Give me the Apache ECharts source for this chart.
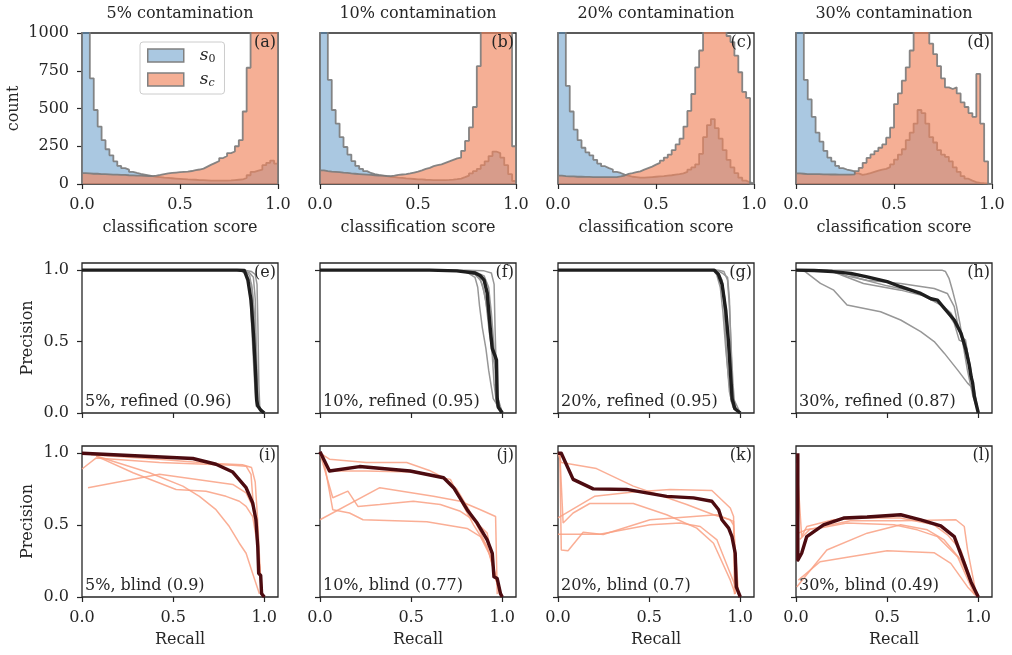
<!DOCTYPE html>
<html>
<head>
<meta charset="utf-8">
<script src="https://cdn.jsdelivr.net/npm/echarts@6/dist/echarts.min.js"></script>
<style>
  html, body { margin: 0; padding: 0; background: #fff; }
  #chart { width: 1012px; height: 655px; }
</style>
</head>
<body>
<div id="chart"></div>
<script>
// contamination levels (one column each)
const levels = ['5%', '10%', '20%', '30%'];
const panelTags = ['(a)', '(b)', '(c)', '(d)', '(e)', '(f)', '(g)', '(h)', '(i)', '(j)', '(k)', '(l)'];
const refinedScores = ['0.96', '0.95', '0.95', '0.87'];
const blindScores = ['0.9', '0.77', '0.7', '0.49'];
const unitTicks = [0, 0.5, 1];

// histograms: counts per bin of width 0.02 on [0, 1]
const binWidth = 0.02;
const s0_05 = [3000, 2000, 700, 490, 380, 290, 230, 190, 150, 120, 105, 95, 80, 73, 67, 62, 57, 52, 48, 45,
  42, 40, 38, 36, 34, 32, 30, 29, 28, 26, 25, 24, 23, 22, 22, 22, 23, 24, 26, 28,
  30, 40, 58, 80, 88, 95, 125, 140, 155, 135];
const sc_05 = [72, 70, 68, 68, 66, 65, 64, 62, 62, 60, 60, 58, 57, 56, 55, 54, 53, 52, 55, 60,
  66, 70, 73, 76, 78, 80, 82, 86, 92, 96, 102, 115, 128, 140, 152, 172, 185, 205, 215, 250,
  290, 480, 770, 1050, 1400, 1800, 2100, 2300, 2400, 2300];
const s0_10 = [3000, 2000, 690, 490, 400, 310, 245, 195, 152, 120, 100, 85, 73, 66, 60, 56, 52, 48, 45, 42,
  40, 37, 35, 33, 31, 30, 28, 27, 26, 26, 25, 26, 27, 29, 32, 36, 45, 55, 70, 85,
  100, 125, 150, 185, 215, 205, 175, 125, 65, 20];
const sc_10 = [90, 85, 82, 80, 78, 75, 73, 70, 68, 66, 64, 62, 60, 58, 56, 55, 53, 52, 55, 60,
  63, 65, 70, 76, 82, 90, 100, 107, 118, 125, 130, 140, 150, 160, 170, 175, 220, 285, 375, 510,
  780, 1100, 1500, 1900, 2200, 2300, 2200, 1900, 1400, 250];
const s0_20 = [3000, 1500, 650, 480, 360, 290, 240, 210, 190, 160, 135, 118, 105, 96, 80, 73, 62, 55, 48, 45,
  42, 42, 44, 46, 48, 50, 52, 55, 58, 62, 65, 70, 80, 95, 110, 130, 200, 310, 390, 430,
  370, 300, 225, 160, 110, 72, 42, 22, 10, 4];
const sc_20 = [55, 52, 50, 50, 48, 48, 47, 47, 46, 46, 46, 45, 45, 45, 46, 50, 56, 67, 72, 78,
  84, 95, 105, 115, 128, 140, 155, 175, 195, 225, 262, 300, 380, 484, 596, 773, 884, 1200, 1400, 1450,
  1400, 1250, 1050, 980, 940, 850, 740, 610, 570, 0];
const s0_30 = [3000, 1500, 690, 560, 445, 340, 280, 220, 175, 150, 120, 105, 96, 90, 84, 70, 60, 65, 72, 80,
  88, 95, 100, 112, 130, 162, 195, 230, 290, 340, 400, 490, 470, 400, 310, 275, 225, 195, 180, 150,
  110, 80, 52, 35, 22, 13, 8, 5, 3, 1];
const sc_30 = [70, 68, 66, 66, 65, 65, 64, 64, 63, 63, 62, 62, 62, 62, 64, 85, 107, 140, 173, 196,
  218, 240, 262, 307, 373, 529, 600, 684, 773, 884, 1100, 1300, 1450, 1300, 929, 860, 780, 700, 640, 629,
  640, 600, 540, 510, 470, 445, 729, 400, 150, 0];

// precision-recall curves, [recall, precision]
const refinedMean05 = [[0, 1], [0.85, 1], [0.89, 0.998], [0.91, 0.93], [0.927, 0.79], [0.94, 0.56], [0.95, 0.33], [0.958, 0.09], [0.964, 0.05], [0.98, 0.02], [1, 0]];
const refinedRuns05 = [
  [[0, 1], [0.86, 1], [0.9, 0.99], [0.92, 0.96], [0.935, 0.85], [0.945, 0.6], [0.955, 0.3], [0.96, 0.05], [0.99, 0.01], [1, 0]],
  [[0, 1], [0.88, 1], [0.92, 0.98], [0.94, 0.95], [0.95, 0.8], [0.955, 0.5], [0.962, 0.2], [0.97, 0.03], [1, 0]],
  [[0, 1], [0.87, 1], [0.9, 0.97], [0.915, 0.9], [0.925, 0.75], [0.935, 0.5], [0.945, 0.25], [0.955, 0.05], [1, 0]],
  [[0, 1], [0.89, 1], [0.93, 0.99], [0.95, 0.97], [0.96, 0.9], [0.965, 0.6], [0.97, 0.2], [0.975, 0.04], [1, 0]],
  [[0, 1], [0.86, 1], [0.9, 0.98], [0.93, 0.9], [0.945, 0.7], [0.955, 0.4], [0.96, 0.1], [0.98, 0.02], [1, 0]]
];
const refinedMean10 = [[0, 1], [0.6, 1], [0.75, 0.995], [0.85, 0.98], [0.88, 0.96], [0.9, 0.93], [0.917, 0.84], [0.936, 0.56], [0.945, 0.45], [0.96, 0.4], [0.968, 0.37], [0.972, 0.1], [0.978, 0.04], [1, 0]];
const refinedRuns10 = [
  [[0, 1], [0.7, 1], [0.8, 0.99], [0.85, 0.95], [0.865, 0.88], [0.875, 0.75], [0.89, 0.6], [0.91, 0.45], [0.925, 0.3], [0.95, 0.1], [1, 0]],
  [[0, 1], [0.8, 1], [0.9, 0.995], [0.94, 0.98], [0.955, 0.9], [0.96, 0.6], [0.965, 0.38], [0.97, 0.1], [1, 0]],
  [[0, 1], [0.75, 1], [0.85, 0.97], [0.88, 0.93], [0.9, 0.85], [0.92, 0.7], [0.94, 0.5], [0.955, 0.2], [0.97, 0.05], [1, 0]],
  [[0, 1], [0.7, 1], [0.82, 0.985], [0.87, 0.96], [0.89, 0.9], [0.91, 0.78], [0.93, 0.55], [0.95, 0.38], [0.965, 0.3], [0.975, 0.05], [1, 0]],
  [[0, 1], [0.65, 1], [0.85, 0.99], [0.9, 0.96], [0.925, 0.88], [0.94, 0.7], [0.955, 0.45], [0.965, 0.15], [1, 0]]
];
const refinedMean20 = [[0, 1], [0.857, 1], [0.88, 0.97], [0.9, 0.9], [0.92, 0.72], [0.935, 0.5], [0.945, 0.3], [0.955, 0.1], [0.97, 0.03], [1, 0]];
const refinedRuns20 = [
  [[0, 1], [0.85, 1], [0.87, 0.97], [0.89, 0.88], [0.905, 0.7], [0.92, 0.45], [0.935, 0.25], [0.95, 0.08], [1, 0]],
  [[0, 1], [0.87, 1], [0.9, 0.98], [0.93, 0.95], [0.94, 0.8], [0.948, 0.5], [0.955, 0.2], [0.965, 0.03], [1, 0]],
  [[0, 1], [0.86, 1], [0.89, 0.95], [0.905, 0.85], [0.915, 0.65], [0.925, 0.4], [0.94, 0.15], [0.96, 0.04], [1, 0]],
  [[0, 1], [0.88, 1], [0.91, 0.99], [0.93, 0.93], [0.94, 0.75], [0.95, 0.45], [0.96, 0.2], [0.97, 0.04], [1, 0]],
  [[0, 1], [0.85, 1], [0.88, 0.98], [0.9, 0.93], [0.915, 0.8], [0.93, 0.6], [0.94, 0.35], [0.955, 0.12], [1, 0]]
];
const refinedMean30 = [[0, 1], [0.1, 0.998], [0.2, 0.99], [0.3, 0.977], [0.39, 0.953], [0.5, 0.92], [0.574, 0.884], [0.684, 0.837], [0.74, 0.8], [0.776, 0.79], [0.813, 0.733], [0.868, 0.651], [0.905, 0.558], [0.932, 0.442], [0.95, 0.337], [0.96, 0.256], [0.969, 0.209], [0.978, 0.116], [1, 0]];
const refinedRuns30 = [
  [[0, 1], [0.5, 1], [0.8, 1], [0.82, 0.99], [0.84, 0.94], [0.86, 0.85], [0.88, 0.75], [0.9, 0.62], [0.92, 0.45], [0.94, 0.3], [0.97, 0.12], [1, 0]],
  [[0, 1], [0.05, 0.99], [0.134, 0.907], [0.207, 0.86], [0.28, 0.756], [0.464, 0.709], [0.574, 0.651], [0.684, 0.57], [0.758, 0.5], [0.813, 0.419], [0.886, 0.302], [0.941, 0.209], [0.978, 0.163], [1, 0]],
  [[0, 1], [0.17, 1], [0.3, 0.953], [0.39, 0.93], [0.574, 0.907], [0.758, 0.872], [0.83, 0.837], [0.868, 0.744], [0.886, 0.628], [0.905, 0.535], [0.93, 0.51], [0.96, 0.256], [1, 0]],
  [[0, 1], [0.2, 0.99], [0.28, 0.95], [0.37, 0.907], [0.574, 0.86], [0.7, 0.82], [0.813, 0.744], [0.868, 0.628], [0.895, 0.51], [0.93, 0.49], [0.96, 0.3], [0.978, 0.14], [1, 0]],
  [[0, 1], [0.25, 0.99], [0.35, 0.94], [0.5, 0.89], [0.65, 0.85], [0.78, 0.78], [0.85, 0.7], [0.89, 0.6], [0.92, 0.48], [0.95, 0.35], [0.975, 0.15], [1, 0]]
];
const blindMean05 = [[0, 1], [0.608, 0.963], [0.735, 0.923], [0.827, 0.869], [0.9, 0.76], [0.936, 0.654], [0.954, 0.537], [0.964, 0.35], [0.969, 0.164], [0.98, 0.15], [0.985, 0.023], [1, 0]];
const blindRuns05 = [
  [[0, 0.89], [0.078, 0.967], [0.425, 0.935], [0.827, 0.916], [0.9, 0.91], [0.927, 0.853], [0.936, 0.7], [0.954, 0.514], [0.973, 0.234], [0.99, 0.02]],
  [[0.033, 0.76], [0.425, 0.853], [0.827, 0.783], [0.9, 0.724], [0.936, 0.63], [0.96, 0.45], [0.985, 0.02]],
  [[0.078, 0.98], [0.28, 0.864], [0.516, 0.748], [0.68, 0.736], [0.79, 0.7], [0.863, 0.666], [0.9, 0.63], [0.936, 0.56], [0.964, 0.35], [0.985, 0.02]],
  [[0.078, 0.98], [0.37, 0.864], [0.553, 0.771], [0.644, 0.7], [0.735, 0.607], [0.808, 0.49], [0.863, 0.374], [0.9, 0.304], [0.936, 0.164], [0.973, 0.023]],
  [[0.05, 0.99], [0.4, 0.96], [0.7, 0.93], [0.88, 0.92], [0.93, 0.9], [0.95, 0.8], [0.965, 0.5], [0.98, 0.1], [0.99, 0.01]]
];
const blindMean10 = [[0, 1.01], [0.052, 0.876], [0.217, 0.907], [0.494, 0.876], [0.678, 0.829], [0.733, 0.76], [0.807, 0.607], [0.862, 0.514], [0.917, 0.397], [0.945, 0.304], [0.954, 0.14], [0.972, 0.128], [0.99, 0.023], [1, 0]];
const blindRuns10 = [
  [[0, 1], [0.052, 0.958], [0.254, 0.935], [0.475, 0.935], [0.6, 0.88], [0.678, 0.829], [0.75, 0.75], [0.82, 0.6], [0.88, 0.45], [0.93, 0.3], [0.98, 0.05]],
  [[0.05, 0.876], [0.254, 0.876], [0.5, 0.87], [0.715, 0.818], [0.788, 0.63], [0.843, 0.5], [0.917, 0.35], [0.99, 0.01]],
  [[0, 1], [0.07, 0.69], [0.153, 0.736], [0.208, 0.63], [0.328, 0.643], [0.512, 0.666], [0.66, 0.643], [0.77, 0.596], [0.843, 0.535], [0.917, 0.444], [0.954, 0.2], [0.99, 0.02]],
  [[0, 0.537], [0.328, 0.76], [0.622, 0.7], [0.77, 0.666], [0.88, 0.607], [0.963, 0.56], [0.972, 0.02]],
  [[0.015, 0.99], [0.07, 0.607], [0.162, 0.584], [0.236, 0.537], [0.586, 0.524], [0.807, 0.477], [0.88, 0.42], [0.936, 0.28], [0.985, 0.02]]
];
const blindMean20 = [[0, 1], [0.018, 1], [0.083, 0.818], [0.193, 0.752], [0.376, 0.748], [0.596, 0.7], [0.743, 0.689], [0.844, 0.666], [0.881, 0.607], [0.899, 0.537], [0.936, 0.479], [0.954, 0.42], [0.972, 0.304], [0.978, 0.07], [1, 0]];
const blindRuns20 = [
  [[0, 1], [0.018, 0.935], [0.211, 0.893], [0.413, 0.771], [0.706, 0.643], [0.853, 0.572], [0.945, 0.537], [0.963, 0.5], [0.99, 0.02]],
  [[0, 0.55], [0.2, 0.7], [0.413, 0.73], [0.615, 0.748], [0.844, 0.741], [0.945, 0.619], [0.963, 0.56], [0.972, 0.02]],
  [[0.01, 1], [0.028, 0.514], [0.083, 0.584], [0.174, 0.65], [0.413, 0.65], [0.596, 0.572], [0.761, 0.479], [0.853, 0.374], [0.945, 0.117], [0.972, 0.02]],
  [[0.01, 1], [0.018, 0.327], [0.055, 0.322], [0.138, 0.45], [0.248, 0.435], [0.505, 0.537], [0.872, 0.572], [0.963, 0.526], [0.968, 0.02]],
  [[0, 0.437], [0.229, 0.437], [0.505, 0.502], [0.67, 0.514], [0.78, 0.49], [0.872, 0.397], [0.945, 0.164], [0.99, 0.02]]
];
const blindMean30 = [[0.01, 1], [0.01, 0.257], [0.031, 0.304], [0.059, 0.42], [0.151, 0.502], [0.261, 0.549], [0.39, 0.556], [0.574, 0.572], [0.684, 0.537], [0.794, 0.495], [0.868, 0.42], [0.923, 0.234], [0.96, 0.105], [1, 0]];
const blindRuns30 = [
  [[0.005, 0.93], [0.031, 0.42], [0.059, 0.49], [0.206, 0.537], [0.39, 0.549], [0.574, 0.549], [0.757, 0.502], [0.831, 0.432], [0.904, 0.327], [0.978, 0.047]],
  [[0.004, 0.07], [0.169, 0.327], [0.39, 0.444], [0.574, 0.502], [0.72, 0.467], [0.813, 0.397], [0.904, 0.257], [0.985, 0.02]],
  [[0.013, 0.117], [0.132, 0.245], [0.298, 0.28], [0.5, 0.322], [0.757, 0.308], [0.849, 0.234], [0.941, 0.07], [0.985, 0.01]],
  [[0.013, 0.444], [0.06, 0.47], [0.132, 0.479], [0.279, 0.514], [0.537, 0.502], [0.665, 0.467], [0.776, 0.42], [0.886, 0.28], [0.978, 0.02]],
  [[0.02, 0.4], [0.077, 0.472], [0.298, 0.53], [0.574, 0.53], [0.877, 0.537], [0.923, 0.49], [0.941, 0.327], [0.99, 0.01]]
];

const s0Hists = [s0_05, s0_10, s0_20, s0_30];
const scHists = [sc_05, sc_10, sc_20, sc_30];
const refinedMeans = [refinedMean05, refinedMean10, refinedMean20, refinedMean30];
const refinedRuns = [refinedRuns05, refinedRuns10, refinedRuns20, refinedRuns30];
const blindMeans = [blindMean05, blindMean10, blindMean20, blindMean30];
const blindRuns = [blindRuns05, blindRuns10, blindRuns20, blindRuns30];

// layout
const FONT = '"DejaVu Serif", serif';
const FS = 16;
const INK = '#262626';
const LEFTS = [82, 320, 558, 796];
const PW = 196;
const TOPS = [33, 263, 446];
const PH = [151, 150, 151];

const BLUE = '#5591c3';
const BLUE_PATCH = '#aac8e1';
const SALMON = '#f0845c';
const SALMON_PATCH = '#f5af95';

const chart = echarts.init(document.getElementById('chart'), null, { renderer: 'canvas' });

// histogram as a step outline: left edges with counts, closed at 0 and 1
function stepData (counts) {
    const pts = [[0, 0]];
    counts.forEach((c, i) => pts.push([+(i * binWidth).toFixed(2), c]));
    pts.push([1, counts[counts.length - 1]]);
    pts.push([1, 0]);
    return pts;
}

const labelStyle = { fontFamily: FONT, fontSize: FS, color: INK };
const tickStyle = { length: 5, lineStyle: { color: INK, width: 1.2 } };

const grid = [];
const xAxis = [];
const yAxis = [];
const series = [];
const graphic = [];

for (let r = 0; r < 3; r++) {
    for (let c = 0; c < 4; c++) {
        const k = r * 4 + c;
        grid.push({
            left: LEFTS[c], top: TOPS[r], width: PW, height: PH[r],
            show: true, borderColor: INK, borderWidth: 1.3, backgroundColor: 'transparent'
        });
        if (r === 0) {
            xAxis.push({
                type: 'value', gridIndex: k, min: 0, max: 1, interval: 0.5,
                axisLine: { show: false }, splitLine: { show: false },
                axisTick: tickStyle,
                axisLabel: Object.assign({ margin: 13, formatter: v => v.toFixed(1) }, labelStyle),
                name: 'classification score', nameLocation: 'middle', nameGap: 36, nameTextStyle: labelStyle
            });
            yAxis.push({
                type: 'value', gridIndex: k, min: 0, max: 1000, interval: 250,
                axisLine: { show: false }, splitLine: { show: false },
                axisTick: Object.assign({ show: c === 0 }, tickStyle),
                axisLabel: Object.assign({ show: c === 0, margin: 13, formatter: v => String(v) }, labelStyle),
                name: c === 0 ? 'count' : '', nameLocation: 'middle', nameGap: 60, nameTextStyle: labelStyle
            });
        } else {
            xAxis.push({
                type: 'value', gridIndex: k, min: 0, max: 1.075,
                axisLine: { show: false }, splitLine: { show: false },
                axisTick: Object.assign({ customValues: unitTicks }, tickStyle),
                axisLabel: Object.assign({ show: r === 2, margin: 13, customValues: unitTicks, formatter: v => v.toFixed(1) }, labelStyle),
                name: r === 2 ? 'Recall' : '', nameLocation: 'middle', nameGap: 35, nameTextStyle: labelStyle
            });
            yAxis.push({
                type: 'value', gridIndex: k, min: 0, max: 1.05,
                axisLine: { show: false }, splitLine: { show: false },
                axisTick: Object.assign({ customValues: unitTicks }, tickStyle),
                axisLabel: Object.assign({ show: c === 0, margin: 13, customValues: unitTicks, formatter: v => v.toFixed(1) }, labelStyle),
                name: c === 0 ? 'Precision' : '', nameLocation: 'middle', nameGap: 46, nameTextStyle: labelStyle
            });
        }

        // panel tag, top right
        graphic.push({
            type: 'text', x: LEFTS[c] + PW - 2, y: TOPS[r] + 10, z: 100,
            style: { text: panelTags[k], font: FS + 'px ' + FONT, fill: INK, textAlign: 'right', textVerticalAlign: 'middle' }
        });
    }
}

// row 1: score histograms
for (let c = 0; c < 4; c++) {
    series.push({
        name: 's0', type: 'line', xAxisIndex: c, yAxisIndex: c, step: 'end', symbol: 'none',
        data: stepData(s0Hists[c]),
        lineStyle: { color: '#7a7a7a', width: 1.8, opacity: 0.9 },
        itemStyle: { color: BLUE_PATCH },
        areaStyle: { color: BLUE, opacity: 0.5 },
        z: 2
    });
    series.push({
        name: 'sc', type: 'line', xAxisIndex: c, yAxisIndex: c, step: 'end', symbol: 'none',
        data: stepData(scHists[c]),
        lineStyle: { color: '#7a7a7a', width: 1.8, opacity: 0.9 },
        itemStyle: { color: SALMON_PATCH },
        areaStyle: { color: SALMON, opacity: 0.65 },
        z: 3
    });
    graphic.push({
        type: 'text', x: LEFTS[c] + PW / 2, y: 14,
        style: { text: levels[c] + ' contamination', font: FS + 'px ' + FONT, fill: INK, textAlign: 'center', textVerticalAlign: 'middle' }
    });
}

// rows 2 and 3: precision-recall curves
function addCurves (k, runs, mean, thin, thick) {
    runs.forEach(run => {
        series.push({
            type: 'line', xAxisIndex: k, yAxisIndex: k, symbol: 'none', data: run,
            lineStyle: { color: thin, width: 1.5 }, z: 2
        });
    });
    series.push({
        type: 'line', xAxisIndex: k, yAxisIndex: k, symbol: 'none', data: mean,
        lineStyle: { color: thick, width: 3.4, join: 'round' }, z: 3
    });
}
for (let c = 0; c < 4; c++) {
    addCurves(4 + c, refinedRuns[c], refinedMeans[c], '#979797', '#1e1e1e');
    addCurves(8 + c, blindRuns[c], blindMeans[c], 'rgba(249,160,130,0.85)', '#4c0b10');
    graphic.push({
        type: 'text', x: LEFTS[c] + 3, y: TOPS[1] + PH[1] - 11, z: 100,
        style: { text: levels[c] + ', refined (' + refinedScores[c] + ')', font: FS + 'px ' + FONT, fill: INK, textAlign: 'left', textVerticalAlign: 'middle' }
    });
    graphic.push({
        type: 'text', x: LEFTS[c] + 3, y: TOPS[2] + PH[2] - 11, z: 100,
        style: { text: levels[c] + ', blind (' + blindScores[c] + ')', font: FS + 'px ' + FONT, fill: INK, textAlign: 'left', textVerticalAlign: 'middle' }
    });
}

chart.setOption({
    animation: false,
    backgroundColor: '#fff',
    grid,
    xAxis,
    yAxis,
    series,
    graphic,
    legend: {
        left: 140, top: 42, orient: 'vertical', selectedMode: false,
        itemWidth: 36, itemHeight: 13, itemGap: 6,
        padding: [5, 9, 5, 7],
        borderColor: '#cccccc', borderWidth: 1, borderRadius: 3,
        backgroundColor: 'rgba(255,255,255,0.8)',
        data: [
            { name: 's0', icon: 'rect', itemStyle: { color: BLUE_PATCH, borderColor: '#808080', borderWidth: 1.5 } },
            { name: 'sc', icon: 'rect', itemStyle: { color: SALMON_PATCH, borderColor: '#808080', borderWidth: 1.5 } }
        ],
        formatter: name => (name === 's0' ? '{s|s}{sub|0}' : '{s|s}{subi|c}'),
        textStyle: {
            rich: {
                s: { fontFamily: FONT, fontStyle: 'italic', fontSize: 17, lineHeight: 19, color: INK, padding: [0, 0, 0, 11] },
                sub: { fontFamily: FONT, fontSize: 11, lineHeight: 12, verticalAlign: 'bottom', color: INK },
                subi: { fontFamily: FONT, fontStyle: 'italic', fontSize: 11, lineHeight: 12, verticalAlign: 'bottom', color: INK }
            }
        }
    }
});
</script>
</body>
</html>
